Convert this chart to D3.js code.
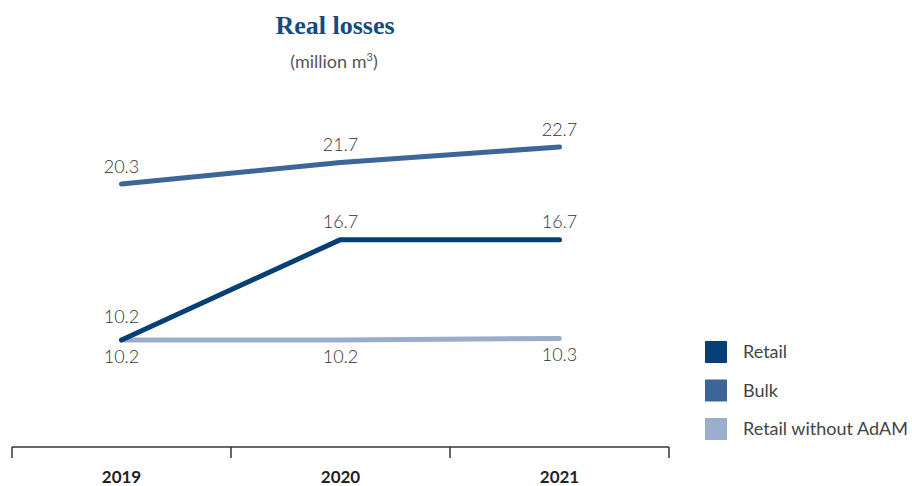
<!DOCTYPE html>
<html>
<head>
<meta charset="utf-8">
<script src="https://cdn.jsdelivr.net/npm/d3@7"></script>
<style>
  body { margin: 0; background: #fff; }
  text { font-family: Lato, "Open Sans", sans-serif; }
</style>
</head>
<body>
<svg id="chart"></svg>
<script>
var years = ["2019", "2020", "2021"];
var seriesNames = ["Retail", "Bulk", "Retail without AdAM"];
var retail = [10.2, 16.7, 16.7];
var bulk = [20.3, 21.7, 22.7];
var retailNoAdam = [10.2, 10.2, 10.3];

var width = 912,
    height = 486;

var colors = ["#063f76", "#3c6598", "#9aadcc"];

var chart = d3.select("#chart")
    .attr("width", width)
    .attr("height", height);

var x = d3.scaleBand()
    .domain(years)
    .range([12, 669]);

var y = d3.scaleLinear()
    .domain([10.2, 22.7])
    .range([340, 147]);

// title
chart.append("text")
    .attr("x", 335).attr("y", 34)
    .attr("text-anchor", "middle")
    .style("font-family", "'Liberation Serif', serif")
    .style("font-weight", "bold")
    .style("font-size", "26px")
    .style("fill", "#174a7f")
    .text("Real losses");

var sub = chart.append("text")
    .attr("x", 334).attr("y", 68)
    .attr("text-anchor", "middle")
    .style("font-size", "18px")
    .style("fill", "#555");
sub.append("tspan").text("(million m");
sub.append("tspan").attr("dy", -7).style("font-size", "11px").text("3");
sub.append("tspan").attr("dy", 7).text(")");

// axis
var axis = chart.append("g")
    .attr("transform", "translate(0,447)")
    .call(d3.axisBottom(x).tickSize(0).tickFormat(""));
axis.select(".domain").remove();
axis.append("line")
    .attr("x1", 12).attr("x2", 669)
    .attr("stroke", "#333").attr("stroke-width", 1.5);
axis.selectAll(".sep")
    .data([12, 12 + x.bandwidth(), 12 + 2 * x.bandwidth(), 669])
    .enter().append("line")
    .attr("x1", function(d) { return d; })
    .attr("x2", function(d) { return d; })
    .attr("y1", 0).attr("y2", 11)
    .attr("stroke", "#333").attr("stroke-width", 1.5);

chart.selectAll(".year")
    .data(years)
    .enter().append("text")
    .attr("class", "year")
    .attr("x", function(d) { return x(d) + x.bandwidth() / 2; })
    .attr("y", 483)
    .attr("text-anchor", "middle")
    .style("font-size", "17px")
    .style("font-weight", "bold")
    .style("fill", "#222")
    .text(function(d) { return d; });

var series = [
    { name: "Retail without AdAM", values: retailNoAdam, color: colors[2], dy: 23 },
    { name: "Bulk", values: bulk, color: colors[1], dy: -11 },
    { name: "Retail", values: retail, color: colors[0], dy: -12 }
];

var line = d3.line()
    .x(function(d, i) { return x(years[i]) + x.bandwidth() / 2; })
    .y(function(d) { return y(d); });

series.forEach(function(s) {
    chart.append("path")
        .datum(s.values)
        .attr("d", line)
        .attr("fill", "none")
        .attr("stroke", s.color)
        .attr("stroke-width", 5)
        .attr("stroke-linecap", "round")
        .attr("stroke-linejoin", "round");

    chart.selectAll(null)
        .data(s.values)
        .enter().append("text")
        .attr("x", function(d, i) { return x(years[i]) + x.bandwidth() / 2; })
        .attr("y", function(d, i) {
            if (s.name === "Retail" && i === 0) return y(d) - 17;
            return y(d) + s.dy;
        })
        .attr("text-anchor", "middle")
        .style("font-size", "18px")
        .style("font-weight", "300")
        .style("fill", "#333")
        .text(function(d) { return d.toFixed(1); });
});

// legend
var legend = chart.selectAll(".legend")
    .data(seriesNames)
    .enter().append("g")
    .attr("class", "legend")
    .attr("transform", function(d, i) { return "translate(705," + (341 + i * 38.5) + ")"; });

legend.append("rect")
    .attr("width", 22).attr("height", 22)
    .attr("fill", function(d, i) { return colors[i]; });

legend.append("text")
    .attr("x", 38).attr("y", 17)
    .style("font-size", "18px")
    .style("fill", "#444")
    .text(function(d) { return d; });
</script>
</body>
</html>
